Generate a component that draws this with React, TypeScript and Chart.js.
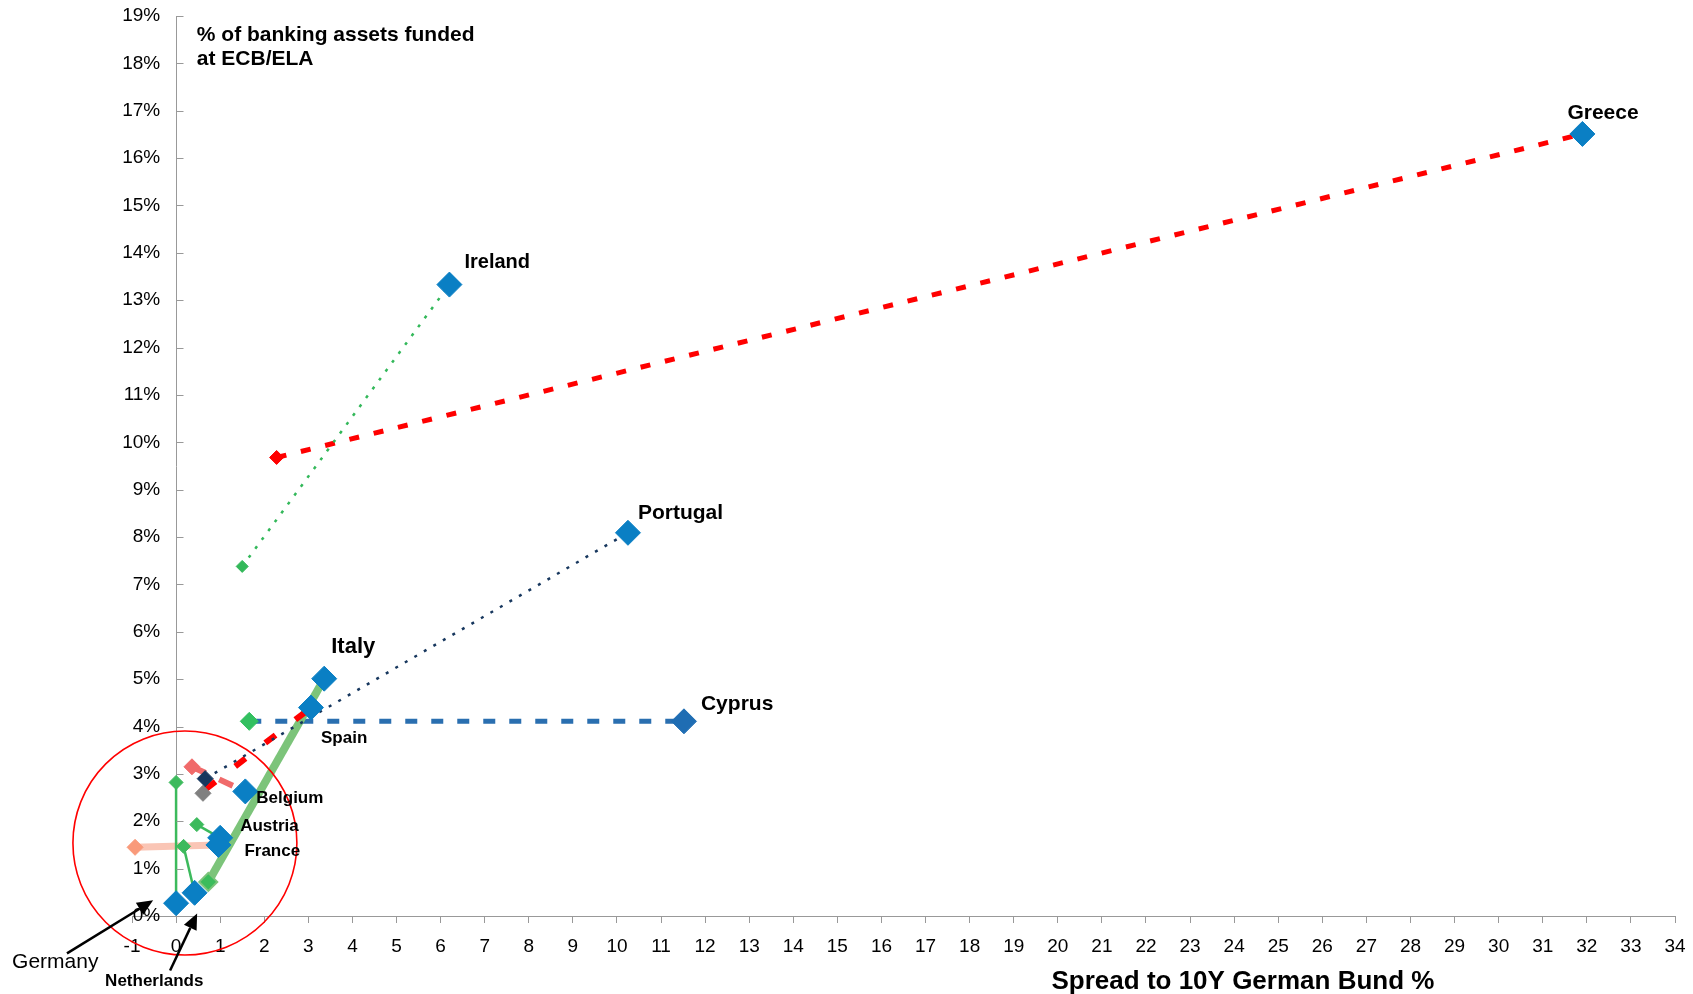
import React, { useEffect, useRef } from 'react';
import { Chart, registerables } from 'chart.js';

Chart.register(...registerables);

// ---------- data ----------
const countries = ['Greece', 'Ireland', 'Portugal', 'Cyprus', 'Italy', 'Spain', 'Belgium', 'Austria', 'France', 'Netherlands', 'Germany'];
// earlier observation (small markers)
const spreadBefore = [2.28, 1.5, 0.66, 1.66, 0.73, 0.66, 0.36, 0.47, -0.93, 0.17, 0.0];
const fundingBefore = [9.68, 7.38, 2.9, 4.11, 0.72, 2.67, 3.15, 1.93, 1.45, 1.47, 2.82];
// latest observation (large blue diamonds)
const spreadLatest = [31.9, 6.2, 10.25, 11.52, 3.36, 3.06, 1.57, 1.0, 0.96, 0.42, 0.0];
const fundingLatest = [16.51, 13.33, 8.09, 4.11, 5.01, 4.4, 2.63, 1.65, 1.5, 0.49, 0.27];
// lone point without a line
const otherSpread = [0.61];
const otherFunding = [2.59];

const xMin = -1;
const xMax = 34;
const yMin = 0;
const yMax = 19;

const titleLines = ['% of banking assets funded', 'at ECB/ELA'];
const xTitle = 'Spread to 10Y German Bund %';

// ---------- styles ----------
const FONT = "'Liberation Sans', Arial, Helvetica, sans-serif";
const NARROW = "'Liberation Sans Narrow', 'Arial Narrow', 'Liberation Sans', Arial, sans-serif";
const BLUE = '#0a7fc4';
const AXIS = '#999';

type LineStyle = { color: string; width: number; dash: number[]; startColor: string; startBorder: string; startR: number };
const lineStyles: Record<string, LineStyle> = {
  Greece: { color: '#ff0000', width: 5, dash: [10, 15], startColor: '#ff0000', startBorder: '#ff0000', startR: 7 },
  Ireland: { color: '#33b85a', width: 2.5, dash: [3, 8], startColor: '#33b85a', startBorder: '#33b85a', startR: 6 },
  Portugal: { color: '#17375e', width: 2.5, dash: [3, 8], startColor: '#17375e', startBorder: '#17375e', startR: 8 },
  Cyprus: { color: '#2a6fb0', width: 5, dash: [12, 14], startColor: '#33c060', startBorder: '#33c060', startR: 9 },
  Italy: { color: '#7cc47a', width: 8, dash: [], startColor: '#3cbc5c', startBorder: '#7cc47a', startR: 9 },
  Spain: { color: '#ff0000', width: 6, dash: [13, 25], startColor: '#ff0000', startBorder: '#ff0000', startR: 0 },
  Belgium: { color: '#f06a6a', width: 6, dash: [15, 15], startColor: '#f06a6a', startBorder: '#f06a6a', startR: 8 },
  Austria: { color: '#3cba5c', width: 2.5, dash: [], startColor: '#3cba5c', startBorder: '#3cba5c', startR: 7 },
  France: { color: '#fac5b5', width: 7, dash: [], startColor: '#f99a7a', startBorder: '#f99a7a', startR: 8 },
  Netherlands: { color: '#3cba5c', width: 2.5, dash: [], startColor: '#3cba5c', startBorder: '#3cba5c', startR: 7 },
  Germany: { color: '#3cba5c', width: 2.5, dash: [], startColor: '#3cba5c', startBorder: '#3cba5c', startR: 7 },
};
// drawing order: first = topmost
const lineOrder = ['Portugal', 'Spain', 'Belgium', 'Italy', 'Austria', 'Netherlands', 'Germany', 'France', 'Cyprus', 'Ireland', 'Greece'];

// label placement (pixel offsets from the latest point)
type LabelStyle = { dx: number; dy: number; size: number };
const labelStyles: Record<string, LabelStyle> = {
  Greece: { dx: -15, dy: -21, size: 21 },
  Ireland: { dx: 15, dy: -22, size: 20 },
  Portugal: { dx: 10, dy: -20, size: 21 },
  Cyprus: { dx: 17, dy: -17, size: 21 },
  Italy: { dx: 7, dy: -32, size: 22 },
  Spain: { dx: 10, dy: 31, size: 17 },
  Belgium: { dx: 11, dy: 7, size: 17 },
  Austria: { dx: 20, dy: -12, size: 17 },
  France: { dx: 26, dy: 6, size: 17 },
};

const annotationPlugin = {
  id: 'annotations',
  afterDraw(chart: any) {
    const { ctx } = chart;
    const xs = chart.scales.x;
    const ys = chart.scales.y;
    const px = (v: number) => xs.getPixelForValue(v);
    const py = (v: number) => ys.getPixelForValue(v);
    const unit = px(1) - px(0);
    ctx.save();

    // y-axis tick marks pointing into the plot
    const ax = Math.round(px(0)) + 0.5;
    ctx.strokeStyle = AXIS;
    ctx.lineWidth = 1;
    ys.ticks.forEach((t: any) => {
      const yy = Math.round(py(t.value)) + 0.5;
      ctx.beginPath();
      ctx.moveTo(ax, yy);
      ctx.lineTo(ax + 7, yy);
      ctx.stroke();
    });

    // red circle
    ctx.beginPath();
    ctx.strokeStyle = '#ff0000';
    ctx.lineWidth = 1.6;
    ctx.arc(px(0.2), py(1.54), 2.54 * unit, 0, Math.PI * 2);
    ctx.stroke();

    // country labels
    ctx.fillStyle = '#000';
    ctx.textBaseline = 'middle';
    ctx.textAlign = 'left';
    countries.forEach((c, i) => {
      const ls = labelStyles[c];
      if (!ls) return;
      ctx.font = `bold ${ls.size}px ${FONT}`;
      ctx.fillText(c, px(spreadLatest[i]) + ls.dx, py(fundingLatest[i]) + ls.dy);
    });

    // top-left title
    ctx.font = `bold 21px ${FONT}`;
    ctx.fillText(titleLines[0], px(0.47), py(18.6));
    ctx.fillText(titleLines[1], px(0.47), py(18.09));

    // x title
    ctx.font = `bold 26px ${FONT}`;
    ctx.textAlign = 'center';
    ctx.fillText(xTitle, px(24.2), py(-1.38));

    // Germany / Netherlands annotations
    ctx.textAlign = 'left';
    ctx.font = `21px ${FONT}`;
    ctx.fillText('Germany', px(-3.72), py(-0.97));
    ctx.font = `bold 17px ${FONT}`;
    ctx.fillText('Netherlands', px(-1.61), py(-1.38));

    const arrow = (x1: number, y1: number, x2: number, y2: number) => {
      const ax1 = px(x1), ay = py(y1), bx = px(x2), by = py(y2);
      const ang = Math.atan2(by - ay, bx - ax1);
      const L = 16, W = 7;
      const hx = bx - Math.cos(ang) * L, hy = by - Math.sin(ang) * L;
      ctx.beginPath();
      ctx.strokeStyle = '#000';
      ctx.lineWidth = 2.5;
      ctx.moveTo(ax1, ay);
      ctx.lineTo(hx, hy);
      ctx.stroke();
      ctx.beginPath();
      ctx.fillStyle = '#000';
      ctx.moveTo(bx, by);
      ctx.lineTo(hx + Math.sin(ang) * W, hy - Math.cos(ang) * W);
      ctx.lineTo(hx - Math.sin(ang) * W, hy + Math.cos(ang) * W);
      ctx.closePath();
      ctx.fill();
    };
    arrow(-2.475, -0.79, -0.52, 0.33);
    arrow(-0.136, -1.15, 0.477, 0.055);

    ctx.restore();
  },
};

export default function App() {
  const ref = useRef<HTMLCanvasElement>(null);

  useEffect(() => {
    if (!ref.current) return;

    const latestDataset: any = {
      type: 'scatter',
      label: 'Latest',
      data: countries.map((_, i) => ({ x: spreadLatest[i], y: fundingLatest[i] })),
      pointStyle: 'rectRot',
      pointRadius: 12.5,
      pointBackgroundColor: countries.map((c) => (c === 'Cyprus' ? '#1f6db3' : BLUE)),
      pointBorderColor: countries.map((c) => (c === 'Cyprus' ? '#1f6db3' : BLUE)),
      pointBorderWidth: 1,
      showLine: false,
      clip: false,
    };

    const otherDataset: any = {
      type: 'scatter',
      label: 'Other',
      data: otherSpread.map((v, i) => ({ x: v, y: otherFunding[i] })),
      pointStyle: 'rectRot',
      pointRadius: 8,
      pointBackgroundColor: '#808080',
      pointBorderColor: '#808080',
      showLine: false,
      clip: false,
    };

    const lineDatasets: any[] = lineOrder.map((c) => {
      const i = countries.indexOf(c);
      const s = lineStyles[c];
      return {
        type: 'line',
        label: c,
        data: [
          { x: spreadBefore[i], y: fundingBefore[i] },
          { x: spreadLatest[i], y: fundingLatest[i] },
        ],
        borderColor: s.color,
        borderWidth: s.width,
        borderDash: s.dash,
        borderCapStyle: 'butt',
        fill: false,
        tension: 0,
        pointStyle: 'rectRot',
        pointRadius: [s.startR, 0],
        pointBackgroundColor: s.startColor,
        pointBorderColor: s.startBorder,
        pointBorderWidth: c === 'Italy' ? 2 : 1,
        clip: false,
      };
    });

    const chart = new Chart(ref.current, {
      type: 'scatter',
      data: { datasets: [latestDataset, lineDatasets[0], otherDataset, ...lineDatasets.slice(1)] },
      options: {
        animation: false,
        responsive: false,
        events: [],
        layout: { padding: { left: 132, top: 16, right: 18, bottom: 0 } },
        plugins: { legend: { display: false }, tooltip: { enabled: false } },
        scales: {
          x: {
            type: 'linear',
            position: 'bottom',
            min: xMin,
            max: xMax,
            ticks: { stepSize: 1, autoSkip: false, maxRotation: 0, font: { family: NARROW, size: 19 }, color: '#000', padding: 12 },
            grid: { drawOnChartArea: false, drawTicks: true, tickLength: 7, color: AXIS },
            border: { color: AXIS, width: 1 },
            afterFit: (s: any) => { s.height = 78; s.paddingRight = 9; s.paddingLeft = 9; },
          },
          y: {
            type: 'linear',
            position: { x: 0 } as any,
            min: yMin,
            max: yMax,
            ticks: { stepSize: 1, callback: (v: any) => `${v}%   `, font: { family: FONT, size: 19 }, color: '#000' },
            grid: { drawOnChartArea: false, drawTicks: false, color: AXIS },
            border: { color: AXIS, width: 1 },
          },
        },
      },
      plugins: [annotationPlugin],
    } as any);

    return () => chart.destroy();
  }, []);

  return (
    <div style={{ position: 'absolute', left: 0, top: 0, width: 1693, height: 994, background: '#fff' }}>
      <canvas ref={ref} width={1693} height={994} style={{ display: 'block' }} />
    </div>
  );
}
